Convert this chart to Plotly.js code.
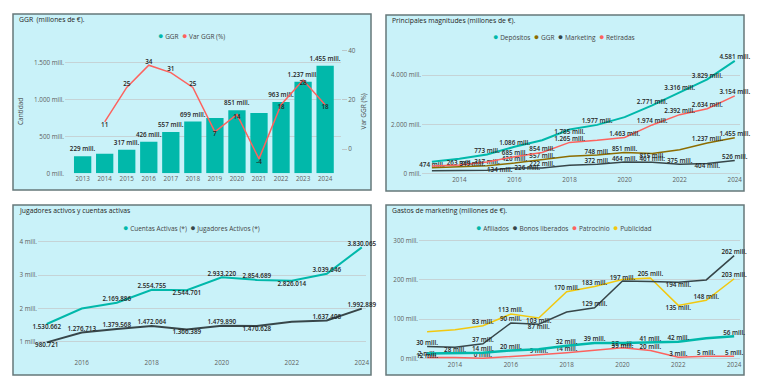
<!DOCTYPE html>
<html><head><meta charset="utf-8">
<script src="https://cdn.plot.ly/plotly-3.0.1.min.js"></script>
<style>html,body{margin:0;padding:0;background:#fff;}#chart{width:760px;height:392px;}</style>
</head><body><div id="chart"></div>
<script>
// ---------- DATA ----------
const years = [2013,2014,2015,2016,2017,2018,2019,2020,2021,2022,2023,2024];
const ggr = [229,263,317,426,557,699,748,851,815,963,1237,1455];
const varGGR = [null,11,25,34,31,25,7,14,-4,18,28,18];
const ggrTicks = [0,500,1000,1500];
const varTicks = [0,20,40];

const depositos = [474,600,773,1086,1350,1785,1977,2290,2771,3316,3829,4581];
const retiradas = [300,349,470,685,854,1265,1350,1463,1974,2392,2634,3154];
const marketing = [112,117,134,226,222,334,372,464,461,375,404,526];
const magTicks = [0,2000,4000];
const magYears = [2014,2016,2018,2020,2022,2024];

const years3 = [2015,2016,2017,2018,2019,2020,2021,2022,2023,2024];
const cuentas = [1530662,1995000,2169886,2554755,2544701,2933220,2854689,2826014,3039646,3830065];
const jugadores = [980721,1276713,1379568,1472064,1366389,1479890,1470628,1600000,1637408,1992889];
const jugTicks = [1000000,2000000,3000000,4000000];
const jugYears = [2016,2018,2020,2022,2024];

const afiliados = [12,13,14,20,23,32,39,39,41,42,51,56];
const bonos = [30,28,37,90,87,118,129,197,196,194,200,262];
const patrocinio = [2,2,0,4,9,14,21,27,20,3,5,5];
const publicidad = [68,73,83,113,103,170,183,201,205,135,148,203];
const mktTicks = [0,100,200,300];

// ---------- HELPERS ----------
const W = 760, H = 392;
const FONT = 'Open Sans, Noto Sans, sans-serif';
const C = {teal:'#01B8AA', red:'#FD625E', dark:'#374649', brown:'#8C6C00', yellow:'#F2C80F'};
const fmt = v => Math.round(v).toString().replace(/\B(?=(\d{3})+(?!\d))/g, '.');
const mill = v => fmt(v) + ' mill.';
const xd = (a,b) => [a/W, b/W];
const yd = (top,bottom) => [1-bottom/H, 1-top/H];
const T='top center', B='bottom center', MR='middle right', N='';
function lbl(vals, pos, f){ return vals.map((v,i)=> (pos[i] && v!==null) ? f(v) : ''); }
function tpos(pos){ return pos.map(p => p || 'top center'); }
const labFont = {family:FONT, size:6.3, color:'#252423', weight:600};
const tickFont = {family:FONT, size:6.3, color:'#605E5C'};
const GRID = '#c5d3d6';

const traces = [];
// Panel 1
const barPos = [T,N,T,T,T,T,N,T,N,T,T,T];
traces.push({type:'bar', x:years, y:ggr, xaxis:'x', yaxis:'y', width:0.785,
  marker:{color:C.teal}, text:lbl(ggr,barPos,mill), textposition:'outside', constraintext:'none', cliponaxis:false,
  textfont:labFont, outsidetextfont:labFont, showlegend:false, hoverinfo:'skip'});
const varPos = [N,B,T,T,T,T,B,B,B,B,B,B];
traces.push({type:'scatter', mode:'lines+text', x:years, y:varGGR, xaxis:'x', yaxis:'y2',
  line:{color:C.red, width:1.5}, text:lbl(varGGR,varPos,v=>String(v)), textposition:tpos(varPos),
  textfont:labFont, cliponaxis:false, showlegend:false, hoverinfo:'skip'});

// Panel 2
const depPos = [B,N,T,T,N,B,T,N,T,T,T,T];
const retPos = [N,MR,N,T,T,T,N,T,T,T,T,T];
const ggrPos = [N,T,T,T,T,N,T,T,B,N,T,T];
const mktPos = [N,N,MR,MR,T,N,T,T,T,T,B,T];
[[depositos,depPos,C.teal,2],[ggr,ggrPos,C.brown,1.5],[marketing,mktPos,C.dark,1.5],[retiradas,retPos,C.red,1.5]].forEach(s=>{
  traces.push({type:'scatter', mode:'lines+text', x:years, y:s[0], xaxis:'x2', yaxis:'y3',
    line:{color:s[2], width:s[3]}, text:lbl(s[0],s[1],mill), textposition:tpos(s[1]),
    textfont:labFont, cliponaxis:false, showlegend:false, hoverinfo:'skip'});
});

// Panel 3
const cuePos = [B,N,T,T,B,T,T,B,T,T];
const jugPos = [B,T,T,T,B,T,B,N,T,T];
[[cuentas,cuePos,C.teal],[jugadores,jugPos,C.dark]].forEach(s=>{
  traces.push({type:'scatter', mode:'lines+text', x:years3, y:s[0], xaxis:'x3', yaxis:'y4',
    line:{color:s[2], width:2}, text:lbl(s[0],s[1],fmt), textposition:tpos(s[1]),
    textfont:labFont, cliponaxis:false, showlegend:false, hoverinfo:'skip'});
});

// Panel 4
const afiPos = [B,N,T,T,N,T,T,B,T,T,N,T];
const bonPos = [T,B,T,T,B,N,T,T,N,B,N,T];
const patPos = [T,N,T,N,T,T,N,T,T,T,T,T];
const pubPos = [N,N,T,T,B,T,T,N,T,B,T,T];
[[publicidad,pubPos,C.yellow,1.5],[bonos,bonPos,C.dark,1.5],[patrocinio,patPos,C.red,1.5],[afiliados,afiPos,C.teal,2.5]].forEach(s=>{
  traces.push({type:'scatter', mode:'lines+text', x:years, y:s[0], xaxis:'x4', yaxis:'y5',
    line:{color:s[2], width:s[3]}, text:lbl(s[0],s[1],mill), textposition:tpos(s[1]),
    textfont:labFont, cliponaxis:false, showlegend:false, hoverinfo:'skip'});
});

// ---------- LAYOUT ----------
function xax(dom, range, ticks, anchor){
  return {domain:xd(dom[0],dom[1]), range:range, tickvals:ticks, ticktext:ticks.map(String),
    showgrid:false, zeroline:false, showline:false, ticks:'', tickfont:tickFont, anchor:anchor, fixedrange:true};
}
function yax(dom, range, ticks, text, anchor){
  return {domain:yd(dom[0],dom[1]), range:range, tickvals:ticks, ticktext:text,
    showgrid:true, gridcolor:GRID, gridwidth:1, zeroline:false, showline:false, ticks:'',
    tickfont:tickFont, anchor:anchor, fixedrange:true};
}
const panels = [[13,14,371,190],[386,15,744,191],[13,205,371,375],[386,205,744,375]];
const shapes = panels.map(p=>({type:'rect', xref:'paper', yref:'paper', layer:'below',
  x0:p[0]/W, x1:p[2]/W, y0:1-p[3]/H, y1:1-p[1]/H, fillcolor:'#C9F2F9', line:{color:'#66787a', width:1.5}}));

function ann(x,y,text,opts){
  return Object.assign({xref:'paper', yref:'paper', x:x/W, y:1-y/H, text:text, showarrow:false,
    xanchor:'left', yanchor:'middle', font:{family:FONT, size:6.8, color:'#252423'}}, opts||{});
}
function legendText(names, colors){
  return names.map((n,i)=>'<span style="color:'+colors[i]+';font-size:9px">●</span> '+n).join('  ');
}
const legFont = {family:FONT, size:6.5, color:'#444'};
const annotations = [
  ann(16.5,20,'GGR  (millones de €).'),
  ann(390,20.5,'Principales magnitudes (millones de €).'),
  ann(16.5,210.5,'Jugadores activos y cuentas activas'),
  ann(390,210.5,'Gastos de marketing (millones de €).'),
  ann(191,35,legendText(['GGR','Var GGR (%)'],[C.teal,C.red]),{xanchor:'center',font:legFont}),
  ann(564,37,legendText(['Depósitos','GGR','Marketing','Retiradas'],[C.teal,C.brown,C.dark,C.red]),{xanchor:'center',font:legFont}),
  ann(191.5,227.5,legendText(['Cuentas Activas (*)','Jugadores Activos (*)'],[C.teal,C.dark]),{xanchor:'center',font:legFont}),
  ann(564,227.5,legendText(['Afiliados','Bonos liberados','Patrocinio','Publicidad'],[C.teal,C.dark,C.red,C.yellow]),{xanchor:'center',font:legFont}),
  ann(20.5,111.5,'Cantidad',{xanchor:'center',textangle:-90,font:{family:FONT,size:6.5,color:'#444'}}),
  ann(363,111.5,'Var GGR (%)',{xanchor:'center',textangle:-90,font:{family:FONT,size:6.5,color:'#444'}})
];

const layout = {
  width:W, height:H, margin:{l:0,r:0,t:0,b:0}, paper_bgcolor:'#ffffff', plot_bgcolor:'rgba(0,0,0,0)',
  font:{family:FONT}, showlegend:false, bargap:0.2,
  xaxis: xax([65,341],[2012.2,2024.72],years,'y'),
  yaxis: yax([45,173.3],[0,1734],ggrTicks,ggrTicks.map(mill),'x'),
  yaxis2: {overlaying:'y', side:'right', anchor:'x', range:[-9.86,42.2], tickvals:varTicks, ticktext:varTicks.map(String),
    showgrid:false, zeroline:false, showline:false, ticks:'outside', ticklen:5, tickcolor:'#bcc8ca', tickfont:tickFont, fixedrange:true},
  xaxis2: xax([422,740],[2012.64,2024.19],magYears,'y3'),
  yaxis3: yax([45,175],[-61,5224],magTicks,magTicks.map(mill),'x2'),
  xaxis3: xax([38,366],[2014.75,2024.12],jugYears,'y4'),
  yaxis4: yax([236,358],[511000,4171000],jugTicks,jugTicks.map(v=>(v/1000000)+' mill.'),'x3'),
  xaxis4: xax([419,740],[2012.71,2024.21],magYears,'y5'),
  yaxis5: yax([236,360],[-4.3,312],mktTicks,mktTicks.map(mill),'x4'),
  shapes: shapes, annotations: annotations
};
Plotly.newPlot('chart', traces, layout, {staticPlot:true, displayModeBar:false});
</script></body></html>
